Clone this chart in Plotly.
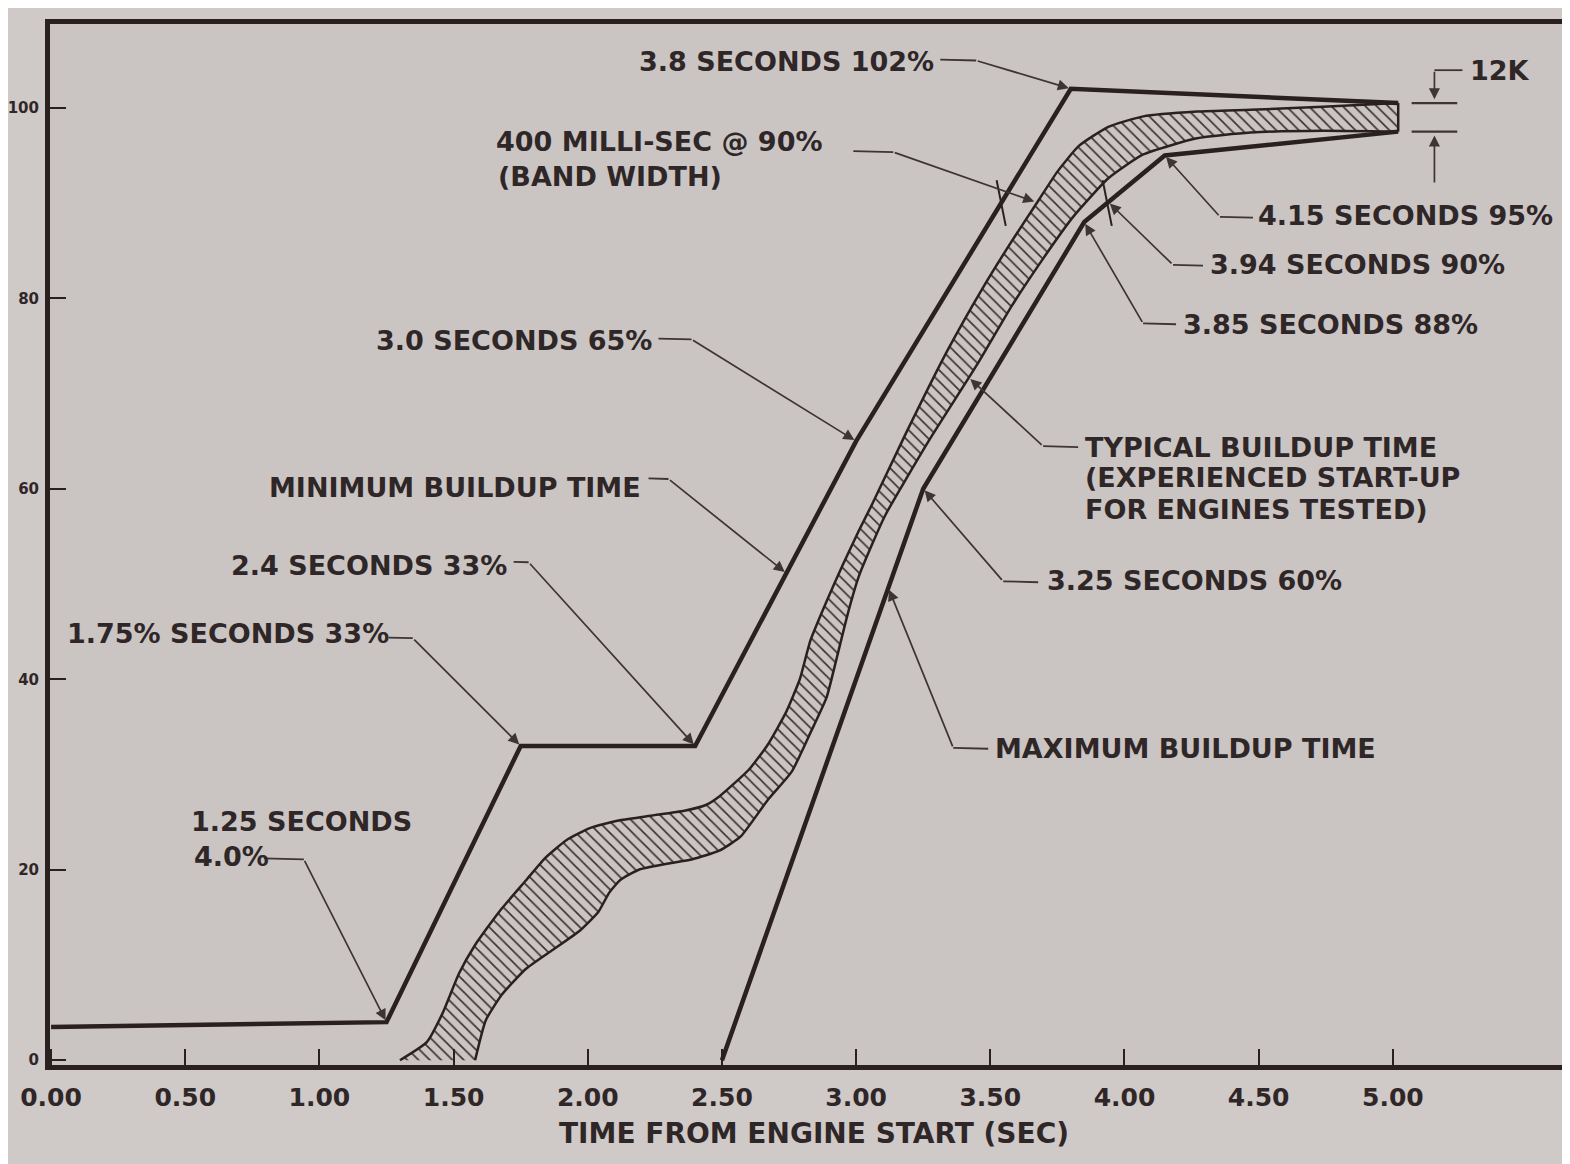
import numpy as np
import plotly.graph_objects as go

# ---------------- data (time in s, thrust in % of rated) ----------------
min_t = [0.00, 1.25, 1.75, 2.40, 3.00, 3.80, 5.02]
min_y = [3.5, 4.0, 33.0, 33.0, 65.0, 102.0, 100.5]

max_t = [2.50, 3.25, 3.85, 4.15, 5.02]
max_y = [0.0, 60.0, 88.0, 95.0, 97.5]

band_top_t = [1.30, 1.40, 1.46, 1.52, 1.58, 1.67, 1.77, 1.84, 1.92, 2.01, 2.12, 2.24,
              2.36, 2.44, 2.49, 2.60, 2.67, 2.74, 2.79, 2.83, 2.89, 2.95, 3.01, 3.06,
              3.18, 3.34, 3.47, 3.58, 3.68, 3.75, 3.83, 3.94, 4.07, 4.27, 4.47, 4.74, 5.02]
band_top_y = [0.0, 1.9, 5.0, 9.1, 12.1, 15.6, 18.9, 21.2, 23.1, 24.4, 25.2, 25.7,
              26.2, 26.8, 27.7, 30.5, 33.1, 36.6, 40.0, 44.1, 48.2, 52.0, 55.6, 58.4,
              65.5, 74.5, 81.0, 86.0, 90.3, 93.3, 96.0, 98.0, 99.1, 99.6, 99.8, 100.1, 100.5]

band_bot_t = [1.58, 1.62, 1.68, 1.77, 1.87, 1.97, 2.04, 2.08, 2.12, 2.19, 2.29, 2.39,
              2.49, 2.57, 2.67, 2.76, 2.83, 2.89, 2.93, 2.97, 3.01, 3.06, 3.11, 3.27,
              3.45, 3.58, 3.70, 3.81, 3.94, 4.07, 4.27, 4.47, 4.74, 5.02]
band_bot_y = [0.0, 4.2, 6.9, 9.6, 11.6, 13.6, 15.6, 17.6, 18.9, 20.0, 20.6, 21.1,
              22.0, 23.5, 27.3, 30.3, 34.4, 38.1, 42.5, 47.0, 50.8, 54.2, 57.3, 65.0,
              73.0, 79.2, 84.3, 88.6, 92.6, 95.1, 96.8, 97.4, 97.6, 97.5]

x_tick_vals = [0.0, 0.5, 1.0, 1.5, 2.0, 2.5, 3.0, 3.5, 4.0, 4.5, 5.0]
x_tick_text = ["0.00", "0.50", "1.00", "1.50", "2.00", "2.50", "3.00", "3.50", "4.00", "4.50", "5.00"]
y_tick_vals = [0, 20, 40, 60, 80, 100]
y_tick_text = ["0", "20", "40", "60", "80", "100"]

# ---------------- style ----------------
BG = "#cac4c3"
INK = "#2a2020"
TXT = "#2f2727"
LEAD = "#3d3434"
FONT = "DejaVu Sans"


def pos(px, py):
    """page layout position -> data coordinates (for text / leader placement)"""
    t = (px - 42) / 268.6
    y = (1085 - py - 0.026 * (px - 42)) / 9.65
    return t, y


fig = go.Figure()

# typical band (hatched fill + smooth outlines)
fig.add_trace(go.Scatter(
    x=band_top_t + band_bot_t[::-1],
    y=band_top_y + band_bot_y[::-1],
    mode="lines", fill="toself",
    line=dict(color="rgba(0,0,0,0)", width=0),
    fillpattern=dict(shape="\\", size=8, solidity=0.2, fgcolor="#3a3030",
                     bgcolor=BG, fillmode="replace"),
    hoverinfo="skip", showlegend=False))
for bx, by in ((band_top_t, band_top_y), (band_bot_t, band_bot_y)):
    fig.add_trace(go.Scatter(x=bx, y=by, mode="lines",
                             line=dict(color=INK, width=2.5, shape="spline", smoothing=0.5),
                             hoverinfo="skip", showlegend=False))
fig.add_trace(go.Scatter(x=[band_top_t[-1], band_bot_t[-1]], y=[band_top_y[-1], band_bot_y[-1]],
                         mode="lines", line=dict(color=INK, width=2.5),
                         hoverinfo="skip", showlegend=False))

# minimum / maximum buildup lines
fig.add_trace(go.Scatter(x=min_t, y=min_y, mode="lines",
                         line=dict(color=INK, width=4.5), hoverinfo="skip", showlegend=False))
fig.add_trace(go.Scatter(x=max_t, y=max_y, mode="lines",
                         line=dict(color=INK, width=4.5), hoverinfo="skip", showlegend=False))

tfont = dict(family=FONT, size=27, color=TXT, weight="bold")


def text(s, px, py, anchor="left"):
    t, y = pos(px, py)
    fig.add_annotation(x=t, y=y, xref="x", yref="y", text=s, showarrow=False,
                       xanchor=anchor, yanchor="middle", font=tfont)


def leader(start, bend, target):
    s = pos(*start)
    b = pos(*bend)
    fig.add_shape(type="line", x0=s[0], y0=s[1], x1=b[0], y1=b[1], xref="x", yref="y",
                  line=dict(color=LEAD, width=1.8))
    fig.add_annotation(x=target[0], y=target[1], ax=b[0], ay=b[1], xref="x", yref="y",
                       axref="x", ayref="y", text="", showarrow=True, arrowhead=2,
                       arrowsize=1.3, arrowwidth=1.7, arrowcolor=LEAD, standoff=2)


min_at = lambda t: float(np.interp(t, min_t, min_y))
max_at = lambda t: float(np.interp(t, max_t, max_y))
bot_at = lambda t: float(np.interp(t, band_bot_t, band_bot_y))

# callouts
text("3.8 SECONDS 102%", 928, 50, "right")
leader((932, 48), (968, 48), (min_t[5], min_y[5]))

text("400 MILLI-SEC @ 90%", 485, 143)
text("(BAND WIDTH)", 487, 178)
leader((845, 143), (885, 143), pos(1028, 190))

text("3.0 SECONDS 65%", 645, 340, "right")
leader((650, 338), (683, 338), (min_t[4], min_y[4]))

text("MINIMUM BUILDUP TIME", 634, 489, "right")
leader((640, 480), (660, 480), (2.74, min_at(2.74)))

text("2.4 SECONDS 33%", 500, 572, "right")
leader((505, 568), (520, 568), (min_t[3], min_y[3]))

text("1.75% SECONDS 33%", 56, 652)
leader((380, 648), (404, 648), (min_t[2], min_y[2]))

text("1.25 SECONDS", 180, 840)
text("4.0%", 183, 875)
leader((255, 875), (295, 875), (min_t[1], min_y[1]))

text("TYPICAL BUILDUP TIME", 1075, 437)
text("(EXPERIENCED START-UP", 1075, 468)
text("FOR ENGINES TESTED)", 1075, 500)
leader((1070, 437), (1035, 437), (3.42, bot_at(3.42)))

text("3.25 SECONDS 60%", 1037, 573)
leader((1030, 575), (995, 575), (max_t[1], max_y[1]))

text("MAXIMUM BUILDUP TIME", 985, 745)
leader((980, 745), (945, 745), (3.12, max_at(3.12)))

text("4.15 SECONDS 95%", 1248, 198)
leader((1245, 200), (1212, 200), (max_t[3], max_y[3]))

text("3.94 SECONDS 90%", 1200, 249)
leader((1195, 250), (1165, 250), (3.94, max_at(3.94)))

text("3.85 SECONDS 88%", 1173, 310)
leader((1168, 310), (1135, 310), (max_t[2], max_y[2]))

# 90 % band-width tick marks
for tt in (float(np.interp(90, min_y[:6], min_t[:6])), float(np.interp(90, max_y, max_t))):
    fig.add_shape(type="line", x0=tt - 0.017, y0=92.4, x1=tt + 0.017, y1=87.6,
                  xref="x", yref="y", line=dict(color=INK, width=2))

# 12K end band marker
top_end, bot_end = band_top_y[-1], band_bot_y[-1]
xm = 5.155
for yy in (top_end, bot_end):
    fig.add_shape(type="line", x0=5.07, y0=yy, x1=5.24, y1=yy, xref="x", yref="y",
                  line=dict(color=LEAD, width=2.2))
kx, ky = pos(1460, 45)
text("12K", 1460, 45)
fig.add_shape(type="line", x0=xm, y0=ky, x1=kx - 0.02, y1=ky, xref="x", yref="y",
              line=dict(color=LEAD, width=1.8))
fig.add_annotation(x=xm, y=top_end + 0.3, ax=xm, ay=ky, xref="x", yref="y", axref="x",
                   ayref="y", text="", showarrow=True, arrowhead=2, arrowsize=1.3,
                   arrowwidth=1.7, arrowcolor=LEAD, standoff=1)
fig.add_annotation(x=xm, y=bot_end - 0.3, ax=xm, ay=bot_end - 5.5, xref="x", yref="y",
                   axref="x", ayref="y", text="", showarrow=True, arrowhead=2,
                   arrowsize=1.3, arrowwidth=1.7, arrowcolor=LEAD, standoff=1)

fig.update_layout(
    width=1570, height=1164,
    margin=dict(l=42, r=0, t=16, b=107, autoexpand=False),
    paper_bgcolor="#cfc9c8", plot_bgcolor=BG,
    font=dict(family=FONT, color=TXT, weight="bold"),
    showlegend=False,
    xaxis=dict(range=[-0.004, 5.69], showline=True, linewidth=5, linecolor=INK, mirror=True,
               ticks="inside", ticklen=16, tickwidth=2, tickcolor=INK, automargin=False,
               tickvals=x_tick_vals, ticktext=x_tick_text, ticklabelstandoff=6,
               tickfont=dict(family=FONT, size=25, color=TXT, weight="bold"),
               showgrid=False, zeroline=False,
               title=dict(text="TIME FROM ENGINE START (SEC)", standoff=14,
                          font=dict(family=FONT, size=28, color=TXT, weight="bold"))),
    yaxis=dict(range=[-0.5, 108.8], showline=True, linewidth=5, linecolor=INK,
               ticks="inside", ticklen=16, tickwidth=2, tickcolor=INK, automargin=False,
               tickvals=y_tick_vals, ticktext=y_tick_text, ticklabelstandoff=3,
               tickfont=dict(family=FONT, size=15, color=TXT, weight="bold"),
               showgrid=False, zeroline=False),
)

fig.write_html("out.html")
